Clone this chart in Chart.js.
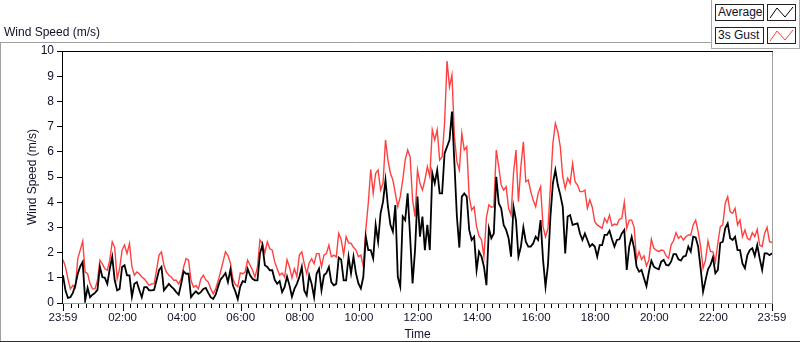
<!DOCTYPE html>
<html>
<head>
<meta charset="utf-8">
<script src="https://cdn.jsdelivr.net/npm/chart.js@4/dist/chart.umd.min.js"></script>
<style>
  body { margin: 0; background: #fff; }
  #wrap { position: relative; width: 800px; height: 342px; overflow: hidden;
          font-family: "Liberation Sans", Arial, sans-serif; color: #101028; }
  #chart { position: absolute; left: 0; top: 0; }
  #title { position: absolute; left: 4px; top: 25px; font-size: 12px; }
  #legend { position: absolute; left: 711px; top: 0; width: 87px; height: 48px;
            border-left: 1px solid #a8a8a8; border-bottom: 1px solid #a8a8a8;
            border-right: 1px solid #a8a8a8; background: #fff; }
  .lbl { position: absolute; left: 3px; width: 45px; height: 15px; border: 1px solid #222;
         font-size: 12px; line-height: 15px; padding-left: 2px; white-space: nowrap; }
  .ico { position: absolute; left: 55px; width: 27px; height: 15px; border: 1px solid #222; }
</style>
</head>
<body>
<div id="wrap">
  <canvas id="chart" width="800" height="342"></canvas>
  <div id="title">Wind Speed (m/s)</div>
  <div id="legend">
    <div class="lbl" style="top:4px">Average</div>
    <svg class="ico" style="top:4px" viewBox="0 0 27 15"><polyline points="2,13 9,3 17,12 25,2" fill="none" stroke="#000" stroke-width="1"/></svg>
    <div class="lbl" style="top:27px">3s Gust</div>
    <svg class="ico" style="top:27px" viewBox="0 0 27 15"><polyline points="2,13 9,3 17,12 25,2" fill="none" stroke="#ff4040" stroke-width="1"/></svg>
  </div>
</div>
<script>
// samples every 5 minutes, starting 23:59 the day before
var STEP_MIN = 5;

// 3s gust (m/s), one row per hour
var gust = [
  1.72, 1.43, 0.96, 0.56, 0.7, 0.6, 1.76, 2.1, 2.45, 1.23, 1.16, 0.76,
  0.56, 0.56, 0.9, 1.7, 1.55, 1.36, 1.3, 1.7, 2.43, 2.2, 0.96, 1.36,
  2.1, 2.3, 1.96, 2.36, 1.43, 1.1, 1.23, 1.16, 1.03, 0.96, 0.83, 0.7,
  0.76, 0.76, 1.3, 1.9, 2.03, 1.5, 1.23, 1.1, 1.03, 0.9, 0.9, 0.76,
  0.96, 1.43, 1.76, 1.7, 0.9, 0.63, 0.7, 0.56, 0.96, 1.1, 0.92, 0.83,
  0.57, 0.36, 0.56, 0.87, 1.23, 1.63, 2.03, 1.88, 1.59, 0.96, 0.73, 0.65,
  1.19, 1.16, 1.23, 1.7, 1.5, 1.3, 1.03, 1.43, 2.5, 2.36, 1.99, 2.43,
  2.16, 2.1, 1.63, 1.36, 1.1, 1.19, 1.03, 1.72, 1.43, 1.0, 1.36, 1.05,
  1.9, 2.03, 1.56, 1.16, 1.59, 1.76, 1.56, 1.96, 1.96, 1.43, 1.9, 1.96,
  2.3, 1.83, 1.9, 1.83, 2.76, 2.52, 1.9, 2.63, 2.39, 2.37, 2.21, 2.1,
  1.84, 1.9, 1.44, 2.9, 3.96, 5.3, 4.35, 5.15, 5.28, 4.48, 4.75, 6.47,
  5.67, 5.15, 4.88, 4.35, 3.82, 4.22, 4.88, 5.67, 6.07, 5.8, 4.09, 3.43,
  5.28, 4.75, 4.48, 4.88, 5.41, 5.01, 6.87, 6.47, 6.87, 5.67, 5.8, 7.13,
  9.6, 8.58, 9.05, 6.6, 5.61, 5.28, 6.73, 6.07, 6.2, 4.22, 3.69, 3.82,
  3.03, 2.66, 2.5, 1.84, 3.4, 3.89, 3.8, 3.82, 6.07, 5.41, 4.68, 4.48,
  4.62, 3.76, 3.49, 5.15, 6.07, 4.02, 5.41, 6.4, 4.81, 4.88, 4.42, 4.09,
  3.82, 4.35, 4.62, 3.03, 2.63, 2.96, 4.62, 6.34, 7.13, 6.8, 6.2, 5.01,
  4.55, 4.95, 4.75, 5.54, 4.81, 4.68, 4.42, 4.42, 4.48, 3.76, 4.09, 3.8,
  3.23, 3.1, 3.03, 2.96, 3.36, 3.19, 3.49, 3.06, 3.13, 3.1, 3.32, 3.36,
  4.0, 2.96, 3.29, 3.29, 3.0, 1.71, 2.04, 1.73, 1.87, 1.47, 1.71, 2.53,
  2.17, 2.1, 2.04, 2.1, 2.08, 1.87, 1.77, 2.3, 2.47, 2.79, 2.57, 2.66,
  2.5, 2.63, 2.7, 2.7, 3.1, 3.29, 2.83, 2.24, 1.38, 1.71, 2.46, 2.04,
  2.04, 1.64, 2.37, 3.03, 3.1, 3.96, 4.22, 3.62, 3.56, 3.76, 3.1, 3.29,
  2.63, 2.9, 2.57, 2.5, 2.79, 2.63, 2.92, 2.3, 2.24, 2.76, 3.0, 2.43,
  2.4
];

// average (m/s), one row per hour
var average = [
  1.1, 0.5, 0.2, 0.23, 0.4, 0.7, 1.16, 1.45, 1.63, 0.1, 0.6, 0.23,
  0.33, 0.4, 0.52, 1.43, 1.03, 1.0, 0.76, 1.36, 1.83, 0.9, 0.5, 0.56,
  1.43, 1.5, 1.1, 1.1, 0.25, 0.76, 0.83, 0.52, 0.23, 0.63, 0.63, 0.5,
  0.5, 0.52, 0.9, 1.3, 1.43, 0.5, 0.63, 0.76, 0.65, 0.56, 0.43, 0.33,
  0.76, 1.26, 1.16, 1.16, 0.23, 0.36, 0.46, 0.36, 0.43, 0.56, 0.6, 0.4,
  0.23, 0.16, 0.33, 0.65, 0.93, 1.05, 1.19, 0.83, 1.32, 0.7, 0.46, 0.15,
  0.65, 0.87, 0.83, 1.36, 1.1, 0.96, 0.9, 0.9, 1.96, 2.3, 1.5, 1.43,
  1.3, 1.3, 0.92, 0.76, 0.87, 0.43, 0.63, 1.05, 0.7, 0.25, 0.56, 0.76,
  1.03, 1.43, 0.5, 0.3, 1.1, 0.76, 0.23, 1.16, 1.36, 0.5, 1.1, 1.19,
  1.43, 0.83, 0.7, 0.76, 1.8, 1.72, 0.9, 0.9, 1.84, 1.18, 1.84, 1.18,
  0.78, 0.58, 1.04, 2.63, 2.1, 2.1, 1.77, 3.1, 2.43, 3.56, 4.02, 4.88,
  3.82, 3.1, 2.83, 3.89, 1.04, 0.65, 3.43, 3.29, 4.35, 2.63, 0.78, 2.1,
  4.22, 2.63, 3.43, 2.1, 3.1, 2.1, 5.15, 4.75, 5.28, 4.35, 4.35, 5.94,
  6.2, 6.47, 7.6, 5.54, 3.43, 2.2, 4.22, 4.35, 4.22, 2.9, 2.5, 2.63,
  1.31, 2.04, 1.84, 1.44, 0.71, 2.96, 2.57, 2.76, 5.01, 3.96, 3.76, 3.1,
  2.9, 2.57, 1.84, 3.82, 3.29, 1.84, 2.24, 3.0, 2.43, 2.24, 2.24, 2.37,
  2.63, 2.5, 3.29, 1.71, 0.65, 1.51, 3.43, 4.75, 5.28, 4.68, 4.29, 3.82,
  1.97, 3.43, 3.49, 3.1, 3.13, 3.16, 2.76, 2.5, 2.76, 2.5, 2.24, 2.34,
  2.24, 1.84, 2.3, 2.3, 2.7, 2.7, 2.87, 2.53, 2.24, 2.5, 2.53, 2.76,
  2.9, 1.31, 2.24, 2.63, 2.17, 1.44, 1.24, 1.31, 0.98, 0.67, 1.24, 1.68,
  1.44, 1.38, 1.34, 1.64, 1.71, 1.51, 1.49, 1.64, 1.94, 1.94, 1.73, 1.68,
  1.84, 1.87, 2.24, 2.04, 2.63, 2.6, 2.24, 1.38, 0.45, 0.91, 1.34, 1.51,
  1.81, 1.18, 1.31, 2.39, 2.43, 2.96, 3.16, 2.57, 2.5, 2.63, 2.1, 2.1,
  1.57, 1.38, 1.9, 2.1, 2.17, 1.87, 2.3, 1.77, 1.31, 1.97, 1.97, 1.9,
  1.97
];

var tickMinutes = [0, 121, 241, 361, 481, 601, 721, 841, 961, 1081, 1201, 1321, 1440];
var tickLabels = ['23:59', '02:00', '04:00', '06:00', '08:00', '10:00', '12:00',
                  '14:00', '16:00', '18:00', '20:00', '22:00', '23:59'];

var TEXT = '#101028';

function toPoints(arr)
{
    return arr.map(function (v, i) { return { x: i * STEP_MIN, y: v }; });
}

// outer panel lines, plot frame and the x tick marks (major + 15 min minor)
var framePlugin = {
    id: 'frame',
    beforeDraw: function (chart)
    {
        var c = chart.ctx;
        c.save();
        c.lineWidth = 1;
        c.strokeStyle = '#a0a0a0';
        c.beginPath();
        c.moveTo(0, 42.5); c.lineTo(711, 42.5);
        c.moveTo(0.5, 42); c.lineTo(0.5, 341);
        c.stroke();
        c.strokeStyle = '#303030';
        c.beginPath();
        c.moveTo(0, 341.5); c.lineTo(800, 341.5);
        c.stroke();
        c.restore();
    },
    afterDatasetsDraw: function (chart)
    {
        var c = chart.ctx, a = chart.chartArea, x = chart.scales.x;
        c.save();
        c.lineWidth = 1;
        c.strokeStyle = '#a0a0a0';
        c.beginPath();
        c.moveTo(a.right + 0.5, a.top); c.lineTo(a.right + 0.5, a.bottom + 1);
        c.moveTo(a.left, a.bottom + 0.5); c.lineTo(a.right + 1, a.bottom + 0.5);
        c.stroke();
        c.strokeStyle = '#000';
        c.beginPath();
        c.moveTo(a.left - 0.5, a.top + 0.5); c.lineTo(a.right + 1, a.top + 0.5);
        c.moveTo(a.left - 0.5, a.top); c.lineTo(a.left - 0.5, a.bottom + 1);
        c.stroke();

        c.beginPath();
        var minor = [0, 1440];
        for (var m = 16; m < 1440; m += 15) minor.push(m);
        minor.forEach(function (m)
        {
            var px = Math.round(x.getPixelForValue(m)) + 0.5;
            c.moveTo(px, a.bottom + 1);
            c.lineTo(px, a.bottom + 5);
        });
        tickMinutes.forEach(function (m)
        {
            var px = Math.round(x.getPixelForValue(m)) + 0.5;
            c.moveTo(px, a.bottom + 1);
            c.lineTo(px, a.bottom + 8);
        });
        c.stroke();
        c.restore();
    }
};

var chart = new Chart(document.getElementById('chart'), {
    type: 'line',
    data: {
        datasets: [
            {
                label: 'Average',
                data: toPoints(average),
                borderColor: '#000000',
                borderWidth: 1.8,
                pointRadius: 0,
                tension: 0
            },
            {
                label: '3s Gust',
                data: toPoints(gust),
                borderColor: '#ff4040',
                borderWidth: 1.4,
                pointRadius: 0,
                tension: 0
            }
        ]
    },
    options: {
        responsive: false,
        animation: false,
        devicePixelRatio: 1,
        layout: { padding: { left: 0, right: 28, top: 51, bottom: 0 } },
        plugins: { legend: { display: false }, tooltip: { enabled: false } },
        scales: {
            x: {
                type: 'linear',
                min: 0,
                max: 1440,
                afterFit: function (s) { s.height = 39; },
                afterBuildTicks: function (s)
                {
                    s.ticks = tickMinutes.map(function (m) { return { value: m }; });
                },
                grid: { drawOnChartArea: false, drawTicks: false },
                border: { display: false },
                ticks: {
                    autoSkip: false,
                    maxRotation: 0,
                    padding: 8,
                    color: TEXT,
                    font: { family: '"Liberation Sans", Arial, sans-serif', size: 11.5 },
                    callback: function (v)
                    {
                        var i = tickMinutes.indexOf(v);
                        return i >= 0 ? tickLabels[i] : '';
                    }
                },
                title: {
                    display: true,
                    text: 'Time',
                    color: TEXT,
                    padding: { top: 0, bottom: 0 },
                    font: { family: '"Liberation Sans", Arial, sans-serif', size: 12 }
                }
            },
            y: {
                min: 0,
                max: 10,
                afterFit: function (s) { s.width = 63; },
                grid: { drawOnChartArea: false, drawTicks: true, tickLength: 6, tickColor: '#000' },
                border: { display: false },
                ticks: {
                    stepSize: 1,
                    padding: 3,
                    color: TEXT,
                    font: { family: '"Liberation Sans", Arial, sans-serif', size: 12 }
                },
                title: {
                    display: true,
                    text: 'Wind Speed (m/s)',
                    color: TEXT,
                    padding: { top: 25, bottom: 0 },
                    font: { family: '"Liberation Sans", Arial, sans-serif', size: 12 }
                }
            }
        }
    },
    plugins: [framePlugin]
});
</script>
</body>
</html>
